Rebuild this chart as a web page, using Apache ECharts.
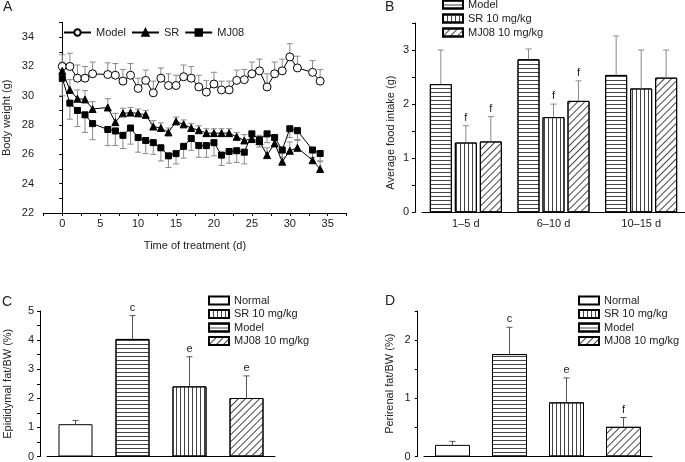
<!DOCTYPE html>
<html><head><meta charset="utf-8">
<script src="https://cdn.jsdelivr.net/npm/echarts@6/dist/echarts.min.js"></script>
<style>html,body{margin:0;padding:0;background:#fff}#c{width:685px;height:462px}</style>
</head><body><div id="c"></div>
<script>
// ---------- Panel A: body weight ----------
const days = [0,1,2,3,4,6,7,8,9,10,11,12,13,14,15,16,17,18,19,20,21,22,23,24,25,26,27,28,29,30,31,33,34];
const modelW = [32.0,32.0,31.2,31.2,31.5,31.45,31.4,31.0,31.4,30.5,31.05,30.2,31.2,30.7,30.7,31.3,31.2,30.6,30.25,30.8,30.4,30.4,31.05,31.1,31.5,31.7,30.6,31.5,31.7,32.65,31.9,31.6,31.0];
const modelErr = [0.8,0.9,0.9,0.8,0.8,0.8,0.8,0.8,0.8,0.7,0.7,0.8,0.7,0.8,0.7,0.8,0.8,0.8,0.8,0.8,0.6,0.6,0.7,0.7,0.8,0.8,0.9,0.8,0.8,0.9,0.8,0.8,0.8];
const srW = [31.7,30.4,29.8,29.75,29.1,29.2,28.2,28.8,28.85,28.8,28.7,27.9,27.8,27.5,28.25,28.05,27.8,27.65,27.45,27.45,27.45,27.45,27.2,26.95,27.05,26.9,25.95,26.75,25.5,26.25,26.45,25.6,25.0];
const srErr = [0.6,0.7,0.6,0.6,0.5,0.6,0.6,0.35,0.35,0.3,0.3,0.4,0.35,0.3,0.3,0.3,0.3,0.3,0.3,0.3,0.3,0.3,0.3,0.4,0.4,0.4,0.5,0.5,0.6,0.6,0.5,0.5,0.5];
const mjW = [31.2,29.5,29.0,28.7,28.1,27.7,27.6,27.3,27.8,27.15,26.95,26.8,26.45,25.9,26.05,26.55,27.08,26.6,26.6,26.8,25.95,26.2,26.25,26.15,27.4,27.0,27.4,27.15,26.3,27.75,27.62,26.3,26.06];
const mjErr = [1.2,1.1,1.1,1.2,1.1,1.1,1.0,0.9,1.1,1.0,0.9,0.8,0.9,0.8,0.7,0.8,0.8,0.8,0.8,0.9,0.7,0.8,0.8,0.8,0.6,0.5,0.6,0.6,0.5,0.6,0.6,0.5,0.5];

// ---------- Panel B: food intake ----------
const periods = ['1\u20135 d','6\u201310 d','10\u201315 d'];
const foodModel = [2.37, 2.83, 2.54];
const foodModelErr = [0.63, 0.19, 0.72];
const foodSR = [1.29, 1.76, 2.29];
const foodSRErr = [0.31, 0.24, 0.71];
const foodMJ = [1.31, 2.06, 2.49];
const foodMJErr = [0.46, 0.37, 0.51];
const foodSRSig = ['f','f',''];
const foodMJSig = ['f','f',''];

// ---------- Panels C, D: fat ----------
const groups = ['Normal','Model ','SR 10 mg/kg','MJ08 10 mg/kg'];
const epiVals = [1.11, 4.04, 2.41, 2.01];
const epiErr = [0.13, 0.80, 1.02, 0.76];
const epiSig = ['', 'c', 'e', 'e'];
const periVals = [0.20, 1.76, 0.93, 0.51];
const periErr = [0.06, 0.46, 0.42, 0.16];
const periSig = ['', 'c', 'e', 'f'];

const FONT = 'Liberation Sans, Arial, sans-serif';
const TXT = '#222';

const decalH = { symbol: 'rect', symbolSize: 1, color: '#444', dashArrayX: [1, 0], dashArrayY: [1, 3], rotation: 0 };
const decalV = { symbol: 'rect', symbolSize: 1, color: '#444', dashArrayX: [1, 3], dashArrayY: [1, 0], rotation: 0 };
const decalD = { symbol: 'rect', symbolSize: 1, color: '#444', dashArrayX: [1, 0], dashArrayY: [1, 4], rotation: -Math.PI / 4 };
const styleFor = {
  'Normal': { color: '#fff', borderColor: '#000', borderWidth: 1 },
  'Model ': { color: '#fff', borderColor: '#000', borderWidth: 1, decal: decalH },
  'SR 10 mg/kg': { color: '#fff', borderColor: '#000', borderWidth: 1, decal: decalV },
  'MJ08 10 mg/kg': { color: '#fff', borderColor: '#000', borderWidth: 1, decal: decalD }
};

function lineErr(dir, color, cap) {
  return function (params, api) {
    const x = api.value(0), v = api.value(1), e = api.value(2);
    const p0 = api.coord([x, v]);
    const p1 = api.coord([x, v + dir * e]);
    return { type: 'group', children: [
      { type: 'line', shape: { x1: p0[0], y1: p0[1], x2: p1[0], y2: p1[1] }, style: { stroke: color, lineWidth: 1 } },
      { type: 'line', shape: { x1: p1[0] - cap, y1: p1[1], x2: p1[0] + cap, y2: p1[1] }, style: { stroke: color, lineWidth: 1 } }
    ] };
  };
}
function barErr(offsetPx, color, cap, sigs) {
  return function (params, api) {
    const i = api.value(0), v = api.value(1), e = api.value(2);
    const p0 = api.coord([i, v]);
    const p1 = api.coord([i, v + e]);
    const x = p0[0] + offsetPx;
    const ch = [
      { type: 'line', shape: { x1: x, y1: p0[1], x2: x, y2: p1[1] }, style: { stroke: color, lineWidth: 1 } },
      { type: 'line', shape: { x1: x - cap, y1: p1[1], x2: x + cap, y2: p1[1] }, style: { stroke: color, lineWidth: 1 } }
    ];
    const s = sigs ? sigs[params.dataIndex] : '';
    if (s) ch.push({ type: 'text', x: x, y: p1[1] - 8, style: { text: s, fill: TXT, font: '11px ' + FONT, align: 'center', verticalAlign: 'middle', textAlign: 'center', textVerticalAlign: 'middle' } });
    return { type: 'group', children: ch };
  };
}

const axisLineStyle = { lineStyle: { color: '#000', width: 1 } };
const labelStyle = { color: TXT, fontSize: 11, fontFamily: FONT };
const nameStyle = { color: TXT, fontSize: 11, fontFamily: FONT };
const legText = { color: TXT, fontSize: 11, fontFamily: FONT };

const option = {
  animation: false,
  backgroundColor: '#fff',
  graphic: [
    { type: 'text', left: 3, top: 0, style: { text: 'A', fill: TXT, font: '14px ' + FONT } },
    { type: 'text', left: 385, top: 0, style: { text: 'B', fill: TXT, font: '14px ' + FONT } },
    { type: 'text', left: 2, top: 295, style: { text: 'C', fill: TXT, font: '14px ' + FONT } },
    { type: 'text', left: 385, top: 294, style: { text: 'D', fill: TXT, font: '14px ' + FONT } }
  ],
  legend: [
    { data: ['Model', 'SR', 'MJ08'], left: 63, top: 27, orient: 'horizontal', padding: 0, itemWidth: 27, itemHeight: 8, itemGap: 5, textStyle: legText },
    { data: ['Model ', 'SR 10 mg/kg', 'MJ08 10 mg/kg'], left: 442, top: -1, orient: 'vertical', padding: 0, itemWidth: 20, itemHeight: 8, itemGap: 3, icon: 'rect', textStyle: legText },
    { data: ['Normal', 'SR 10 mg/kg', 'Model ', 'MJ08 10 mg/kg'], left: 208, top: 295, orient: 'vertical', padding: 0, itemWidth: 20, itemHeight: 8, itemGap: 2.5, icon: 'rect', textStyle: legText },
    { data: ['Normal', 'SR 10 mg/kg', 'Model ', 'MJ08 10 mg/kg'], left: 578, top: 295, orient: 'vertical', padding: 0, itemWidth: 20, itemHeight: 8, itemGap: 2.5, icon: 'rect', textStyle: legText }
  ],
  grid: [
    { left: 42.3, width: 304.4, top: 22.5, height: 190.5 },
    { left: 422, width: 266, top: 23, height: 189.3 },
    { left: 47, width: 228, top: 311, height: 147.3 },
    { left: 424, width: 228, top: 311, height: 147.3 }
  ],
  xAxis: [
    { gridIndex: 0, type: 'value', min: -2.5, max: 37.5, interval: 2.5,
      axisLine: Object.assign({ onZero: false }, axisLineStyle), axisTick: { length: 3, lineStyle: { color: '#000' } }, splitLine: { show: false },
      axisLabel: Object.assign({ margin: 5, formatter: v => (v >= 0 && v <= 35 && v % 5 === 0) ? String(v) : '' }, labelStyle),
      name: 'Time of treatment (d)', nameLocation: 'middle', nameGap: 27, nameTextStyle: nameStyle },
    { gridIndex: 1, type: 'category', data: periods,
      axisLine: axisLineStyle, axisTick: { show: false }, axisLabel: Object.assign({ margin: 6 }, labelStyle) },
    { gridIndex: 2, type: 'category', data: groups,
      axisLine: axisLineStyle, axisTick: { show: false }, axisLabel: { show: false } },
    { gridIndex: 3, type: 'category', data: groups,
      axisLine: axisLineStyle, axisTick: { show: false }, axisLabel: { show: false } }
  ],
  yAxis: [
    { gridIndex: 0, type: 'value', min: 22, max: 35, interval: 1, offset: 2.3,
      axisLine: { show: true, lineStyle: { color: '#000' } }, axisTick: { show: true, length: 3, lineStyle: { color: '#000' } }, splitLine: { show: false },
      axisLabel: Object.assign({ margin: 7, formatter: v => (v % 2 === 0 && v <= 34) ? String(v) : '' }, labelStyle),
      name: 'Body weight (g)', nameLocation: 'middle', nameGap: 29, nameTextStyle: nameStyle },
    { gridIndex: 1, type: 'value', min: 0, max: 3.5, interval: 0.5, offset: 7,
      axisLine: { show: true, lineStyle: { color: '#000' } }, axisTick: { show: true, length: 3, lineStyle: { color: '#000' } }, splitLine: { show: false },
      axisLabel: Object.assign({ margin: 6, formatter: v => Number.isInteger(v) ? String(v) : '' }, labelStyle),
      name: 'Average food intake (g)', nameLocation: 'middle', nameGap: 19, nameTextStyle: Object.assign({ padding: [0, 30, 0, 0] }, nameStyle) },
    { gridIndex: 2, type: 'value', min: 0, max: 5, interval: 0.5, offset: 7,
      axisLine: { show: true, lineStyle: { color: '#000' } }, axisTick: { show: true, length: 3, lineStyle: { color: '#000' } }, splitLine: { show: false },
      axisLabel: Object.assign({ margin: 6, formatter: v => Number.isInteger(v) ? String(v) : '' }, labelStyle),
      name: 'Epididymal fat/BW (%)', nameLocation: 'middle', nameGap: 27, nameTextStyle: nameStyle },
    { gridIndex: 3, type: 'value', min: 0, max: 2.5, interval: 0.5, offset: 6.3,
      axisLine: { show: true, lineStyle: { color: '#000' } }, axisTick: { show: true, length: 3, lineStyle: { color: '#000' } }, splitLine: { show: false },
      axisLabel: Object.assign({ margin: 7, formatter: v => Number.isInteger(v) ? String(v) : '' }, labelStyle),
      name: 'Perirenal fat/BW (%)', nameLocation: 'middle', nameGap: 22, nameTextStyle: nameStyle }
  ],
  series: []
};

// Panel A series
const aSets = [
  { name: 'Model', w: modelW, e: modelErr, dir: 1, symbol: 'circle', size: 8, fill: '#fff' },
  { name: 'SR', w: srW, e: srErr, dir: 1, symbol: 'triangle', size: 7, fill: '#000' },
  { name: 'MJ08', w: mjW, e: mjErr, dir: -1, symbol: 'rect', size: 6, fill: '#000' }
];
aSets.forEach(s => {
  option.series.push({
    type: 'custom', name: s.name + '_err', xAxisIndex: 0, yAxisIndex: 0, z: 1, silent: true,
    renderItem: lineErr(s.dir, '#8a8a8a', 3),
    encode: { x: 0, y: 1 },
    data: days.map((d, i) => [d, s.w[i], s.e[i]])
  });
  option.series.push({
    type: 'line', name: s.name, xAxisIndex: 0, yAxisIndex: 0, z: 3,
    symbol: s.symbol, symbolSize: s.size, showAllSymbol: true,
    lineStyle: { color: '#000', width: 1 },
    itemStyle: { color: s.fill, borderColor: '#000', borderWidth: 1 },
    data: days.map((d, i) => [d, s.w[i]])
  });
});

// Panel B series
const bSets = [
  { name: 'Model ', v: foodModel, e: foodModelErr, sig: null },
  { name: 'SR 10 mg/kg', v: foodSR, e: foodSRErr, sig: foodSRSig },
  { name: 'MJ08 10 mg/kg', v: foodMJ, e: foodMJErr, sig: foodMJSig }
];
const bW = 22, bGap = 3;
bSets.forEach((s, k) => {
  option.series.push({
    type: 'bar', name: s.name, xAxisIndex: 1, yAxisIndex: 1, barWidth: bW, barGap: (bGap / bW * 100) + '%',
    itemStyle: styleFor[s.name], data: s.v
  });
});
bSets.forEach((s, k) => {
  option.series.push({
    type: 'custom', name: s.name + '_errB', xAxisIndex: 1, yAxisIndex: 1, z: 4, silent: true,
    renderItem: barErr((k - 1) * (bW + bGap), '#8a8a8a', 3, s.sig),
    encode: { x: 0, y: 1 },
    data: s.v.map((v, i) => [i, v, s.e[i]])
  });
});

// Panels C, D
[[2, epiVals, epiErr, epiSig, 34], [3, periVals, periErr, periSig, 35]].forEach(([ax, vals, errs, sigs, bw]) => {
  groups.forEach((g, k) => {
    option.series.push({
      type: 'bar', name: g, xAxisIndex: ax, yAxisIndex: ax, barWidth: bw, barGap: '-100%',
      itemStyle: styleFor[g], data: groups.map((_, j) => j === k ? vals[k] : '-')
    });
  });
  option.series.push({
    type: 'custom', name: 'err' + ax, xAxisIndex: ax, yAxisIndex: ax, z: 4, silent: true,
    renderItem: barErr(0, '#555', 3, sigs),
    encode: { x: 0, y: 1 },
    data: vals.map((v, i) => [i, v, errs[i]])
  });
});

const chart = echarts.init(document.getElementById('c'), null, { renderer: 'canvas' });
chart.setOption(option);
</script>
</body></html>
